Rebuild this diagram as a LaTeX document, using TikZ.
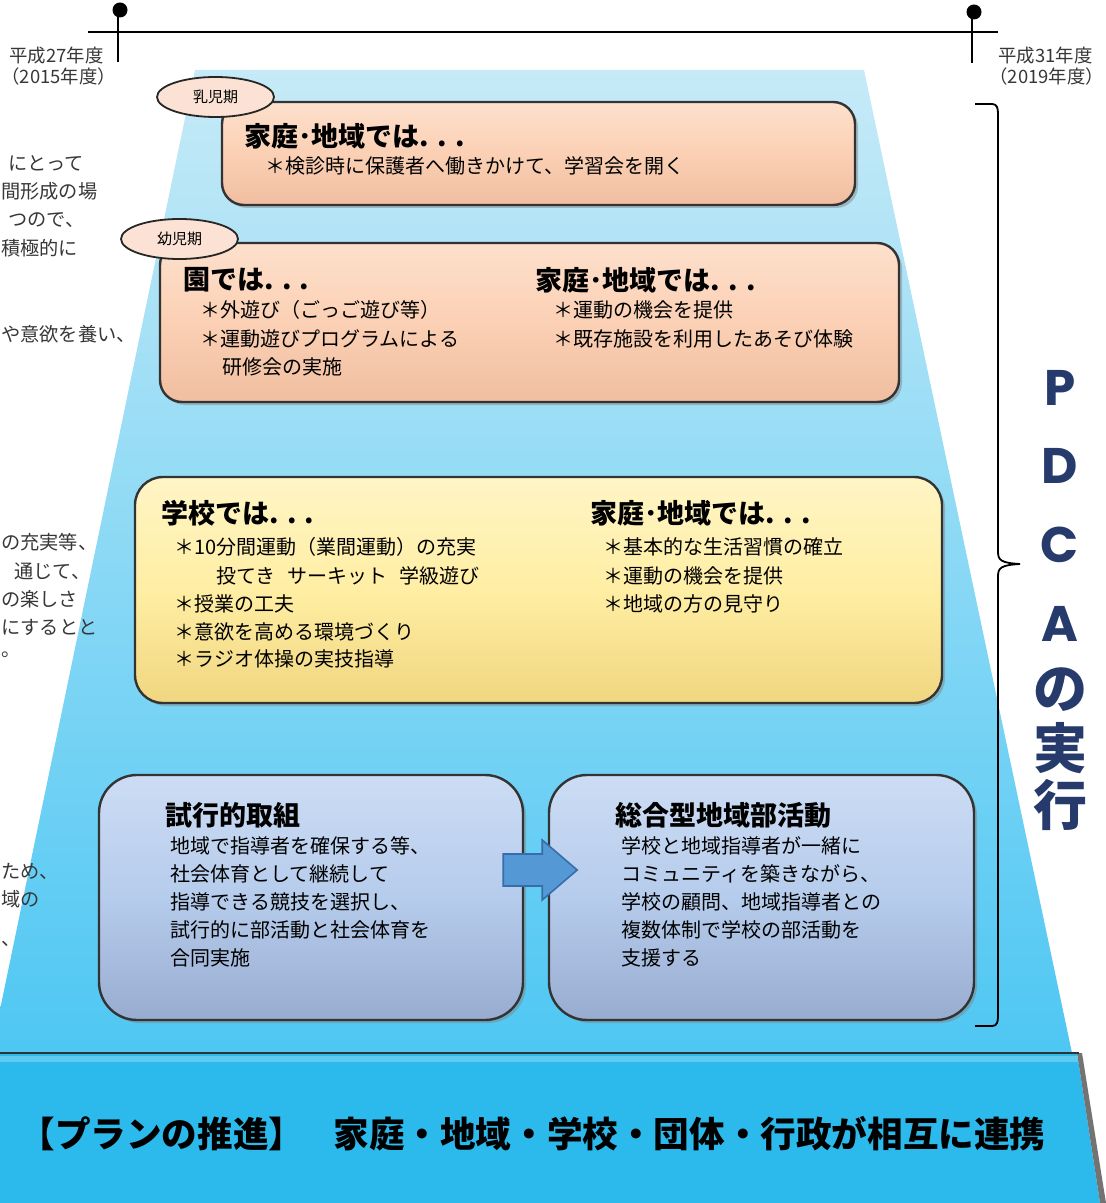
\documentclass[tikz,border=0pt]{standalone}
\usepackage{fontspec}
\setmainfont{Noto Sans CJK JP}
\newfontfamily\pdcafont{Poppins}
\usetikzlibrary{shadows,shapes.geometric}

\definecolor{skytop}{RGB}{198,234,247}
\definecolor{skybot}{RGB}{78,199,243}
\definecolor{bandblue}{RGB}{44,186,237}
\definecolor{peach}{RGB}{251,208,180}
\definecolor{peachtop}{RGB}{253,224,204}
\definecolor{peachbot}{RGB}{240,190,160}
\definecolor{ovalpeach}{RGB}{251,226,212}
\definecolor{cream}{RGB}{255,238,163}
\definecolor{creamtop}{RGB}{255,245,198}
\definecolor{creambot}{RGB}{240,214,128}
\definecolor{steel}{RGB}{182,204,236}
\definecolor{steeltop}{RGB}{204,220,244}
\definecolor{steelbot}{RGB}{152,172,208}
\definecolor{arrowblue}{RGB}{84,152,214}
\definecolor{arrowedge}{RGB}{55,110,170}
\definecolor{navy}{RGB}{38,58,108}
\definecolor{txtgray}{RGB}{55,55,55}

\begin{document}
\begin{tikzpicture}[x=0.5pt, y=-0.5pt,
    stagebox/.style={draw=black!80, line width=1.2pt, inner sep=0,
        drop shadow={shadow xshift=1.5pt, shadow yshift=-1.5pt, opacity=0.45}},
    peachbox/.style={stagebox, rounded corners=11pt,
        top color=peachtop, bottom color=peachbot, middle color=peach},
    creambox/.style={stagebox, rounded corners=14pt,
        top color=creamtop, bottom color=creambot, middle color=cream},
    steelbox/.style={stagebox, rounded corners=19pt,
        top color=steeltop, bottom color=steelbot, middle color=steel},
    agelabel/.style={ellipse, draw=black!85, line width=0.9pt, fill=ovalpeach,
        minimum width=58.5pt, minimum height=20pt, inner sep=0,
        font=\fontsize{7.5}{9}\selectfont},
    headtxt/.style={anchor=west, inner sep=0, font=\bfseries\fontsize{13.5}{16}\selectfont},
    itemtxt/.style={anchor=west, inner sep=0, font=\fontsize{10}{12}\selectfont},
    notetxt/.style={anchor=west, inner sep=0, text=txtgray, font=\fontsize{9.6}{11}\selectfont},
    yeartxt/.style={anchor=west, inner sep=0, text=txtgray, font=\fontsize{9.2}{11}\selectfont},
    pdcatxt/.style={inner sep=0, text=navy},
    bandtxt/.style={anchor=west, inner sep=0, font=\bfseries\fontsize{17.8}{20}\selectfont}]

    \useasboundingbox (0,0) rectangle (1106,1203);
    \clip (0,0) rectangle (1106,1203);

    %% Background

    % Trapezoid
    \shade[top color=skytop, bottom color=skybot]
        (195,70) -- (864,70) -- (1072,1053) -- (-9,1053) -- cycle;

    % Base band
    \fill[bandblue] (0,1053) -- (1077,1053) -- (1100,1203) -- (0,1203) -- cycle;
    \fill[black!55] (1077,1053) -- (1082,1053) -- (1106,1203) -- (1100,1203) -- cycle;
    \fill[white, opacity=0.25] (0,1056) rectangle (1078,1062);
    \draw[black!80, line width=1.2pt] (0,1053) -- (1079,1053);
    \node[bandtxt] (plan-tag) at (19,1134) {【プランの推進】};
    \node[bandtxt] (plan-text) at (333,1134) {家庭・地域・学校・団体・行政が相互に連携};

    %% Notes on the left

    \node[notetxt] (note-a) at (8,163) {にとって};
    \node[notetxt] (note-b) at (1,191) {間形成の場};
    \node[notetxt] (note-c) at (8,220) {つので、};
    \node[notetxt] (note-d) at (1,248) {積極的に};
    \node[notetxt] (note-e) at (1,334) {や意欲を養い、};
    \node[notetxt] (note-f) at (1,542) {の充実等、};
    \node[notetxt] (note-g) at (14,571) {通じて、};
    \node[notetxt] (note-h) at (1,599) {の楽しさ};
    \node[notetxt] (note-i) at (1,627) {にするとと};
    \node[notetxt] (note-j) at (1,655) {。};
    \node[notetxt] (note-k) at (1,871) {ため、};
    \node[notetxt] (note-l) at (1,899) {域の};
    \node[notetxt] (note-m) at (1,944) {、};

    %% Timeline

    \draw[line width=0.6pt] (88,32) -- (998,32);
    \draw[line width=0.8pt] (118,10) -- (118,62);
    \draw[line width=0.8pt] (972,12) -- (972,63);
    \fill (120,10) circle (7.5);
    \fill (974,12) circle (7.5);
    \node[yeartxt] (start-year) at (9,56) {平成27年度};
    \node[yeartxt] (start-fy) at (1,77) {（2015年度）};
    \node[yeartxt] (end-year) at (998,56) {平成31年度};
    \node[yeartxt] (end-fy) at (989,77) {（2019年度）};

    %% Infant stage

    \node[peachbox, minimum width=316.5pt, minimum height=51.5pt] (infant) at (538.5,153.5) {};
    \node[agelabel] (infant-age) at (215.5,97) {乳児期};
    \node[headtxt] (infant-head) at (244,136) {家庭･地域では. . .};
    \node[itemtxt] (infant-item) at (265,166) {＊検診時に保護者へ働きかけて、学習会を開く};

    %% Early childhood stage

    \node[peachbox, minimum width=369.5pt, minimum height=79.5pt] (child) at (529.5,322.5) {};
    \node[agelabel] (child-age) at (179.5,239) {幼児期};
    \node[headtxt] (child-head) at (183,280) {園では. . .};
    \node[itemtxt] (child-item-a) at (200,310) {＊外遊び（ごっご遊び等）};
    \node[itemtxt] (child-item-b) at (200,339) {＊運動遊びプログラムによる};
    \node[itemtxt] (child-item-c) at (222,367) {研修会の実施};
    \node[headtxt] (child-home) at (535,280) {家庭･地域では. . .};
    \node[itemtxt] (child-home-a) at (553,310) {＊運動の機会を提供};
    \node[itemtxt] (child-home-b) at (553,339) {＊既存施設を利用したあそび体験};

    %% School stage

    \node[creambox, minimum width=403.5pt, minimum height=113pt] (school) at (538.5,590) {};
    \node[headtxt] (school-head) at (161,513) {学校では. . .};
    \node[itemtxt] (school-item-a) at (174,547) {＊10分間運動（業間運動）の充実};
    \node[itemtxt] (school-item-b) at (216,576) {投てき\hspace{6pt}サーキット\hspace{6pt}学級遊び};
    \node[itemtxt] (school-item-c) at (174,604) {＊授業の工夫};
    \node[itemtxt] (school-item-d) at (174,632) {＊意欲を高める環境づくり};
    \node[itemtxt] (school-item-e) at (174,659) {＊ラジオ体操の実技指導};
    \node[headtxt] (school-home) at (590,513) {家庭･地域では. . .};
    \node[itemtxt] (school-home-a) at (603,547) {＊基本的な生活習慣の確立};
    \node[itemtxt] (school-home-b) at (603,576) {＊運動の機会を提供};
    \node[itemtxt] (school-home-c) at (603,604) {＊地域の方の見守り};

    %% Club activities

    % Trial
    \node[steelbox, minimum width=212pt, minimum height=122.5pt] (trial) at (311,897.5) {};
    \node[headtxt] (trial-head) at (165,815) {試行的取組};
    \node[itemtxt] (trial-a) at (170,846) {地域で指導者を確保する等、};
    \node[itemtxt] (trial-b) at (170,874) {社会体育として継続して};
    \node[itemtxt] (trial-c) at (170,902) {指導できる競技を選択し、};
    \node[itemtxt] (trial-d) at (170,930) {試行的に部活動と社会体育を};
    \node[itemtxt] (trial-e) at (170,958) {合同実施};

    % Community club
    \node[steelbox, minimum width=212.5pt, minimum height=122.5pt] (club) at (761.5,897.5) {};
    \node[headtxt] (club-head) at (615,815) {総合型地域部活動};
    \node[itemtxt] (club-a) at (621,846) {学校と地域指導者が一緒に};
    \node[itemtxt] (club-b) at (621,874) {コミュニティを築きながら、};
    \node[itemtxt] (club-c) at (621,902) {学校の顧問、地域指導者との};
    \node[itemtxt] (club-d) at (621,930) {複数体制で学校の部活動を};
    \node[itemtxt] (club-e) at (621,958) {支援する};

    % Arrow from trial to club
    \draw[fill=arrowblue, draw=arrowedge, line width=0.8pt, line join=miter]
        (trial.east) ++(-21,-43.5) -- ++(39,0) -- ++(0,-14) -- ++(35,30)
        -- ++(-35,30) -- ++(0,-14) -- ++(-39,0) -- cycle;

    %% PDCA

    % Brace
    \draw[line width=0.9pt] (975,104) -- (992,104) .. controls (997,104) and (998,108) .. (998,114)
        -- (998,552) .. controls (998,560) and (1001,563) .. (1020,564)
        .. controls (1001,565) and (998,568) .. (998,576)
        -- (998,1016) .. controls (998,1022) and (997,1026) .. (992,1026) -- (975,1026);

    % Letters
    \node[pdcatxt, font=\pdcafont\bfseries\fontsize{25}{28}\selectfont] (pdca-p) at (1060,388) {P};
    \node[pdcatxt, font=\pdcafont\bfseries\fontsize{25}{28}\selectfont] (pdca-d) at (1060,466) {D};
    \node[pdcatxt, font=\pdcafont\bfseries\fontsize{25}{28}\selectfont] (pdca-c) at (1060,545) {C};
    \node[pdcatxt, font=\pdcafont\bfseries\fontsize{25}{28}\selectfont] (pdca-a) at (1060,624) {A};
    \node[pdcatxt, font=\bfseries\fontsize{27}{30}\selectfont] (pdca-no) at (1060,690) {の};
    \node[pdcatxt, font=\bfseries\fontsize{27}{30}\selectfont] (pdca-jitsu) at (1060,748) {実};
    \node[pdcatxt, font=\bfseries\fontsize{27}{30}\selectfont] (pdca-ko) at (1060,805) {行};

\end{tikzpicture}
\end{document}
